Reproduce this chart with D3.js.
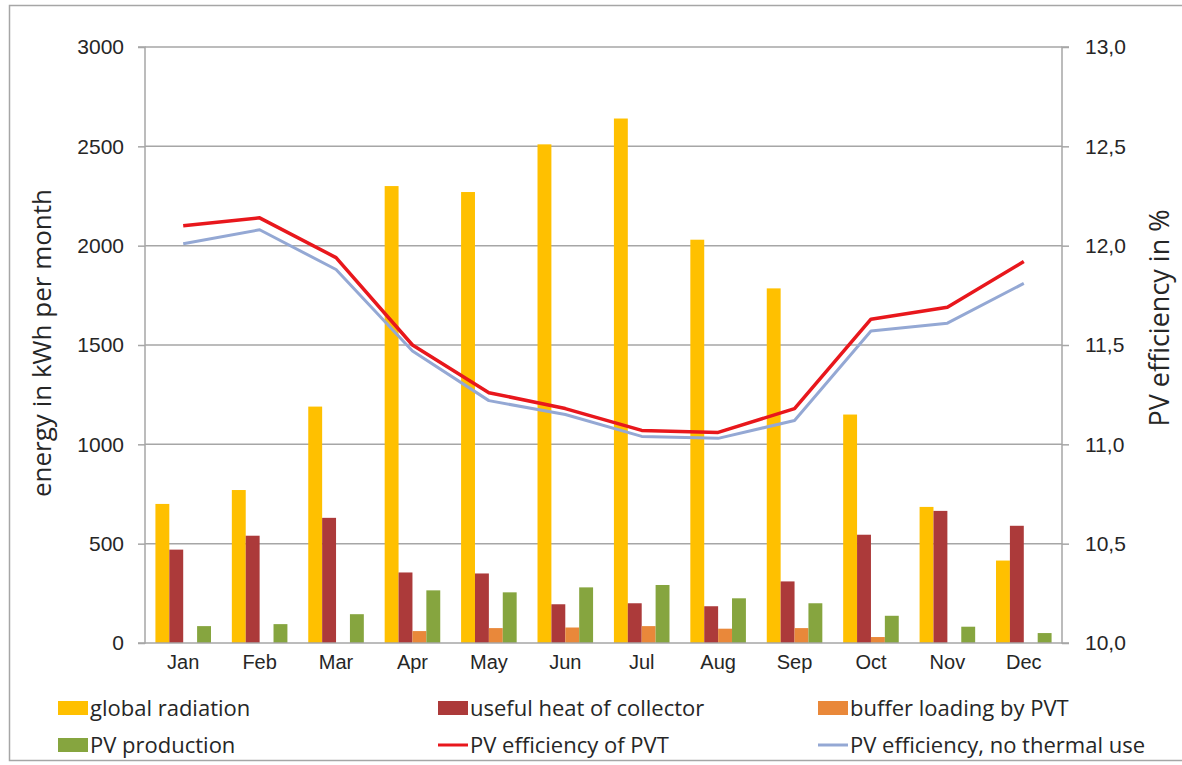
<!DOCTYPE html>
<html>
<head>
<meta charset="utf-8">
<script src="https://cdn.jsdelivr.net/npm/d3@7"></script>
<style>
  html, body { margin: 0; padding: 0; background: #fff; }
  svg { display: block; font-family: "Open Sans", "Noto Sans", sans-serif; }
</style>
</head>
<body>
<svg id="chart" width="1182" height="765"></svg>
<script>
// Monthly energy balance of a PVT system
const months = ["Jan","Feb","Mar","Apr","May","Jun","Jul","Aug","Sep","Oct","Nov","Dec"];

// energy in kWh per month (left axis)
const globalRadiation = [700, 770, 1190, 2300, 2270, 2510, 2640, 2030, 1785, 1150, 685, 415];
const usefulHeat      = [470, 540, 630, 355, 350, 195, 200, 185, 310, 545, 665, 590];
const bufferLoading   = [0, 0, 0, 60, 75, 78, 85, 72, 75, 30, 0, 0];
const pvProduction    = [85, 95, 145, 265, 255, 280, 292, 225, 200, 137, 82, 50];

// PV efficiency in % (right axis)
const effPVT       = [12.10, 12.14, 11.94, 11.50, 11.26, 11.18, 11.07, 11.06, 11.18, 11.63, 11.69, 11.92];
const effNoThermal = [12.01, 12.08, 11.88, 11.47, 11.22, 11.15, 11.04, 11.03, 11.12, 11.57, 11.61, 11.81];

const leftTicks  = [0, 500, 1000, 1500, 2000, 2500, 3000];
const rightTicks = [10.0, 10.5, 11.0, 11.5, 12.0, 12.5, 13.0];

const barSeries = [
  { name: "global radiation",          values: globalRadiation, color: "#FFC000" },
  { name: "useful heat of collector",  values: usefulHeat,      color: "#AC3A3A" },
  { name: "buffer loading by PVT",     values: bufferLoading,   color: "#E9883A" },
  { name: "PV production",             values: pvProduction,    color: "#86A53F" }
];
const lineSeries = [
  { name: "PV efficiency of PVT",             values: effPVT,       color: "#E8171C" },
  { name: "PV efficiency, no thermal use",    values: effNoThermal, color: "#94A8D4" }
];

const svg = d3.select("#chart");
const W = 1182, H = 765;
const plot = { left: 145, right: 1062, top: 47, bottom: 643 };
const textColor = "#262626";

// outer frame
svg.append("rect")
  .attr("x", 9.5).attr("y", 5.5)
  .attr("width", W + 10).attr("height", 755)
  .attr("fill", "none").attr("stroke", "#a6a6a6").attr("stroke-width", 1.5);

const x = d3.scaleBand().domain(months).range([plot.left, plot.right]).paddingInner(0).paddingOuter(0);
const xInner = d3.scaleBand().domain(d3.range(barSeries.length))
  .range([0, x.bandwidth()]).paddingInner(0).paddingOuter(0.75);
const yL = d3.scaleLinear().domain([0, 3000]).range([plot.bottom, plot.top]);
const yR = d3.scaleLinear().domain([10, 13]).range([plot.bottom, plot.top]);

// horizontal gridlines
svg.append("g").selectAll("line").data(leftTicks.slice(1)).join("line")
  .attr("x1", plot.left).attr("x2", plot.right)
  .attr("y1", d => yL(d)).attr("y2", d => yL(d))
  .attr("stroke", "#a6a6a6").attr("stroke-width", 1.5);

// bars
const groups = svg.append("g").selectAll("g").data(barSeries).join("g")
  .attr("fill", d => d.color);
groups.each(function(s, si) {
  d3.select(this).selectAll("rect").data(s.values).join("rect")
    .attr("x", (v, i) => x(months[i]) + xInner(si))
    .attr("width", xInner.bandwidth())
    .attr("y", v => yL(v))
    .attr("height", v => plot.bottom - yL(v));
});

// axes
const axisL = d3.axisLeft(yL).tickValues(leftTicks).tickSize(7).tickPadding(14).tickFormat(d3.format("d"));
const axisR = d3.axisRight(yR).tickValues(rightTicks).tickSize(7).tickPadding(16)
  .tickFormat(d => d3.format(".1f")(d).replace(".", ","));
const axisB = d3.axisBottom(x).tickSize(0).tickPadding(12);

function styleAxis(g) {
  g.select(".domain").attr("stroke", "#a6a6a6").attr("stroke-width", 1.5);
  g.selectAll(".tick line").attr("stroke", "#a6a6a6").attr("stroke-width", 1.5);
  g.selectAll(".tick text").attr("fill", textColor).attr("font-size", 21);
}
svg.append("g").attr("transform", `translate(${plot.left},0)`).call(axisL).call(styleAxis)
  .call(g => g.select(".domain").attr("d", `M-7,${plot.top}H0V${plot.bottom}H-7`));
svg.append("g").attr("transform", `translate(${plot.right},0)`).call(axisR).call(styleAxis)
  .call(g => g.select(".domain").attr("d", `M7,${plot.top}H0V${plot.bottom}H7`));
svg.append("g").attr("transform", `translate(0,${plot.bottom})`).call(axisB).call(styleAxis)
  .call(g => g.select(".domain").attr("d", `M${plot.left},0H${plot.right}`))
  .call(g => g.selectAll(".tick text").attr("font-size", 20));

// efficiency lines
const line = d3.line().x((v, i) => x(months[i]) + x.bandwidth() / 2).y(v => yR(v));
svg.append("g").selectAll("path").data(lineSeries.slice().reverse()).join("path")
  .attr("d", d => line(d.values))
  .attr("fill", "none")
  .attr("stroke", d => d.color)
  .attr("stroke-width", d => d.name === "PV efficiency of PVT" ? 3.5 : 3)
  .attr("stroke-linejoin", "round");

// axis titles
svg.append("text")
  .attr("transform", `translate(51,343) rotate(-90)`)
  .attr("text-anchor", "middle").attr("font-size", 26).attr("fill", textColor)
  .text("energy in kWh per month");
svg.append("text")
  .attr("transform", `translate(1169,318) rotate(-90)`)
  .attr("text-anchor", "middle").attr("font-size", 27).attr("fill", textColor)
  .text("PV efficiency in %");

// legend
const legendItems = [
  { s: barSeries[0], type: "bar" }, { s: barSeries[1], type: "bar" }, { s: barSeries[2], type: "bar" },
  { s: barSeries[3], type: "bar" }, { s: lineSeries[0], type: "line" }, { s: lineSeries[1], type: "line" }
];
const colX = [58, 438, 818], rowY = [708, 745];
const legend = svg.append("g").selectAll("g").data(legendItems).join("g")
  .attr("transform", (d, i) => `translate(${colX[i % 3]},${rowY[Math.floor(i / 3)]})`);
legend.filter(d => d.type === "bar").append("rect")
  .attr("x", 0).attr("y", -7).attr("width", 30).attr("height", 14).attr("fill", d => d.s.color);
legend.filter(d => d.type === "line").append("line")
  .attr("x1", 0).attr("x2", 30).attr("y1", 0).attr("y2", 0)
  .attr("stroke", d => d.s.color).attr("stroke-width", 3);
legend.append("text")
  .attr("x", 32).attr("y", 0).attr("dy", "0.35em")
  .attr("font-size", 22).attr("fill", textColor)
  .text(d => d.s.name);
</script>
</body>
</html>
